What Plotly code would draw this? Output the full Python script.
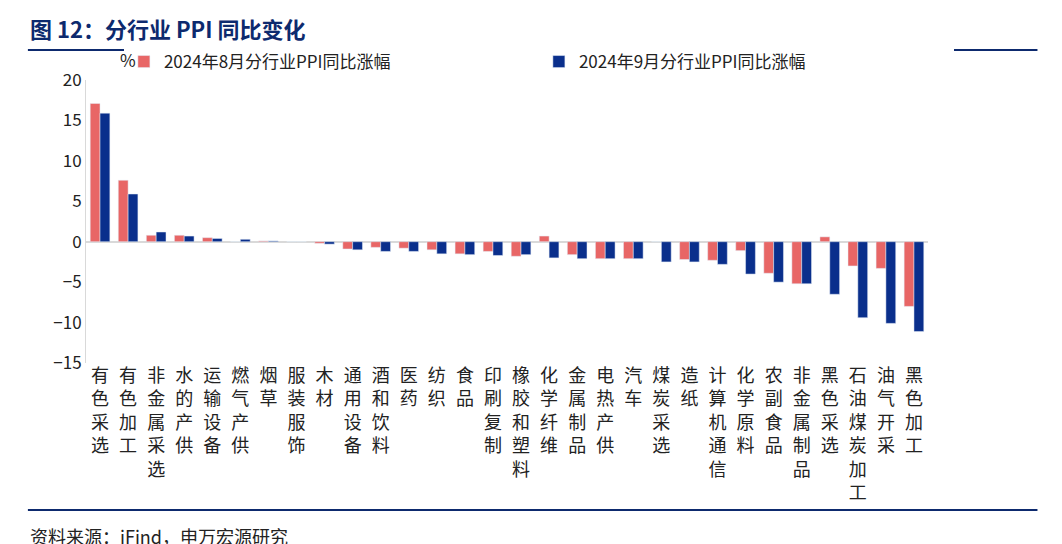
import plotly.graph_objects as go

categories = ["有色采选", "有色加工", "非金属采选", "水的产供", "运输设备", "燃气产供", "烟草", "服装服饰",
              "木材", "通用设备", "酒和饮料", "医药", "纺织", "食品", "印刷复制", "橡胶和塑料",
              "化学纤维", "金属制品", "电热产供", "汽车", "煤炭采选", "造纸", "计算机通信", "化学原料",
              "农副食品", "非金属制品", "黑色采选", "石油煤炭加工", "油气开采", "黑色加工"]
aug = [17.1, 7.6, 0.8, 0.8, 0.5, 0.0, 0.1, 0.0, -0.2, -0.9, -0.7, -0.8, -1.0, -1.5, -1.2, -1.8,
       0.7, -1.6, -2.1, -2.1, 0.0, -2.2, -2.3, -1.1, -3.9, -5.2, 0.6, -3.0, -3.3, -8.0]
sep = [15.9, 5.9, 1.2, 0.7, 0.4, 0.3, 0.1, 0.0, -0.3, -1.0, -1.2, -1.2, -1.5, -1.6, -1.7, -1.6,
       -2.0, -2.1, -2.1, -2.1, -2.5, -2.5, -2.8, -4.0, -5.0, -5.2, -6.5, -9.4, -10.1, -11.1]

ticktext = ["<br>".join(c) for c in categories]
NAVY = "#0a2f8c"
RED = "#e86666"
TITLE = "#0d2a6e"

fig = go.Figure()
fig.add_trace(go.Bar(x=categories, y=aug, name="2024年8月分行业PPI同比涨幅", marker_color=RED))
fig.add_trace(go.Bar(x=categories, y=sep, name="2024年9月分行业PPI同比涨幅", marker_color=NAVY))

fig.update_layout(
    width=1062, height=544,
    margin={"l": 78, "r": 142, "t": 72, "b": 189},
    paper_bgcolor="white", plot_bgcolor="white",
    font={"family": "Noto Sans CJK SC", "size": 18, "color": "#222"},
    barmode="group", bargap=0.3, bargroupgap=0.0,
    legend={"orientation": "h", "x": 0.045, "y": 1.0, "yanchor": "bottom",
            "font": {"size": 17}, "entrywidth": 370},
    xaxis={"tickmode": "array", "tickvals": categories, "ticktext": ticktext,
           "tickangle": 0, "showgrid": False, "showline": False, "ticks": "",
           "tickfont": {"size": 18}},
    yaxis={"range": [-15, 20], "dtick": 5, "showgrid": False, "zeroline": True,
           "zerolinecolor": "#d9d9d9", "zerolinewidth": 1.5, "showline": True,
           "linecolor": "#d9d9d9", "tickfont": {"size": 17}},
)

# header, units, footer (paper coords derived from the 283px-tall plot area)
fig.add_annotation(text="<b>图 12：分行业 PPI 同比变化</b>", xref="paper", yref="paper",
                   x=-0.069, y=1.184, xanchor="left", yanchor="middle", showarrow=False,
                   font={"size": 22, "color": TITLE})
fig.add_annotation(text="%", xref="paper", yref="paper", x=0.038, y=1.02,
                   yanchor="bottom", showarrow=False, font={"size": 17})
fig.add_annotation(text="资料来源：iFind，申万宏源研究", xref="paper", yref="paper",
                   x=-0.069, y=-0.611, xanchor="left", yanchor="middle", showarrow=False,
                   font={"size": 18, "color": "#222"})
fig.add_shape(type="line", xref="paper", yref="paper", x0=-0.069, x1=1.13, y0=1.106, y1=1.106,
              line={"color": TITLE, "width": 2})
fig.add_shape(type="line", xref="paper", yref="paper", x0=-0.069, x1=1.13, y0=-0.519, y1=-0.519,
              line={"color": TITLE, "width": 2})

fig.write_html("out.html")
